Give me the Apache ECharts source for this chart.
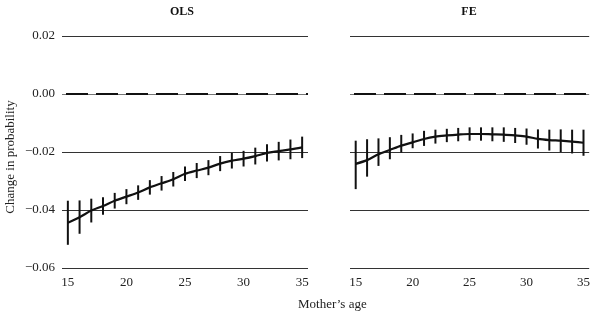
<!DOCTYPE html>
<html>
<head>
<meta charset="utf-8">
<script src="https://cdn.jsdelivr.net/npm/echarts@6/dist/echarts.min.js"></script>
<style>
  html, body { margin: 0; padding: 0; background: #fff; }
  #chart { width: 593px; height: 313px; }
</style>
</head>
<body>
<div id="chart"></div>
<script>
const ages = [15, 16, 17, 18, 19, 20, 21, 22, 23, 24, 25, 26, 27, 28, 29, 30, 31, 32, 33, 34, 35];
const xTicks = [15, 20, 25, 30, 35];

const olsMean = [-0.0444, -0.0425, -0.0402, -0.0386, -0.0368, -0.0354, -0.0340, -0.0322, -0.0308, -0.0294,
  -0.0275, -0.0264, -0.0254, -0.0240, -0.0230, -0.0223, -0.0214, -0.0203, -0.0197, -0.0191, -0.0184];
const olsLow = [-0.0520, -0.0482, -0.0443, -0.0416, -0.0395, -0.0380, -0.0365, -0.0347, -0.0333, -0.0319,
  -0.0300, -0.0290, -0.0280, -0.0266, -0.0257, -0.0250, -0.0243, -0.0233, -0.0229, -0.0225, -0.0221];
const olsHigh = [-0.0368, -0.0367, -0.0361, -0.0356, -0.0341, -0.0328, -0.0315, -0.0297, -0.0283, -0.0269,
  -0.0250, -0.0238, -0.0228, -0.0214, -0.0203, -0.0196, -0.0185, -0.0173, -0.0165, -0.0157, -0.0147];

const feMean = [-0.0241, -0.0228, -0.0208, -0.0193, -0.0178, -0.0167, -0.0155, -0.0147, -0.0143, -0.0140,
  -0.0138, -0.0138, -0.0139, -0.0140, -0.0143, -0.0147, -0.0155, -0.0159, -0.0161, -0.0164, -0.0168];
const feLow = [-0.0328, -0.0285, -0.0248, -0.0225, -0.0202, -0.0187, -0.0179, -0.0171, -0.0166, -0.0163,
  -0.0161, -0.0161, -0.0163, -0.0165, -0.0169, -0.0175, -0.0188, -0.0195, -0.0200, -0.0205, -0.0213];
const feHigh = [-0.0161, -0.0156, -0.0153, -0.0149, -0.0141, -0.0136, -0.0127, -0.0123, -0.0120, -0.0117,
  -0.0115, -0.0115, -0.0115, -0.0115, -0.0117, -0.0119, -0.0122, -0.0123, -0.0122, -0.0123, -0.0123];

const yMin = -0.06, yMax = 0.02, yStep = 0.02;

const chart = echarts.init(document.getElementById("chart"));
const font = "'Liberation Serif', 'DejaVu Serif', serif";

function errorBars(xIndex, low, high) {
  return {
    type: "custom",
    xAxisIndex: xIndex,
    yAxisIndex: xIndex,
    data: ages.map((a, i) => [a, low[i], high[i]]),
    renderItem: function (params, api) {
      const p1 = api.coord([api.value(0), api.value(1)]);
      const p2 = api.coord([api.value(0), api.value(2)]);
      return {
        type: "line",
        shape: { x1: p1[0], y1: p1[1], x2: p2[0], y2: p2[1] },
        style: { stroke: "#111", lineWidth: 2 }
      };
    },
    z: 3
  };
}

function meanLine(xIndex, mean) {
  return {
    type: "line",
    xAxisIndex: xIndex,
    yAxisIndex: xIndex,
    data: ages.map((a, i) => [a, mean[i]]),
    smooth: 0.3,
    symbol: "none",
    lineStyle: { color: "#111", width: 2.2 },
    markLine: {
      silent: true,
      symbol: "none",
      label: { show: false },
      lineStyle: { color: "#111", type: [22, 8], dashOffset: 26, width: 2.2 },
      data: [{ yAxis: 0 }]
    },
    z: 4
  };
}

function xAxis(gridIndex) {
  return {
    type: "value",
    gridIndex: gridIndex,
    min: 14.5,
    max: 35.5,
    axisLine: { show: false },
    axisTick: { show: false },
    splitLine: { show: false },
    axisLabel: {
      customValues: xTicks,
      color: "#222",
      fontFamily: font,
      fontSize: 13,
      margin: 8
    }
  };
}

function yAxis(gridIndex, showLabels) {
  return {
    type: "value",
    gridIndex: gridIndex,
    min: yMin,
    max: yMax,
    interval: yStep,
    axisLine: { show: false },
    axisTick: { show: false },
    splitLine: {
      show: true,
      lineStyle: { color: ["#333", "#333", "#333", "#777", "#333"], width: 1 }
    },
    axisLabel: {
      show: showLabels,
      color: "#222",
      fontFamily: font,
      fontSize: 13,
      margin: 7,
      formatter: v => v.toFixed(2).replace("-", "\u2212")
    }
  };
}

const option = {
  backgroundColor: "#ffffff",
  animation: false,
  title: [
    { text: "OLS", left: 177, top: 1, textAlign: "center",
      textStyle: { fontFamily: font, fontSize: 12, fontWeight: "bold", color: "#111" } },
    { text: "FE", left: 464, top: 1, textAlign: "center",
      textStyle: { fontFamily: font, fontSize: 12, fontWeight: "bold", color: "#111" } }
  ],
  graphic: [
    { type: "text", left: 298, top: 298,
      style: { text: "Mother\u2019s age", font: "13px " + font, fill: "#222" } },
    { type: "text", x: 4, y: 157, rotation: Math.PI / 2, originX: 0, originY: 0,
      style: { text: "Change in probability", font: "13px " + font, fill: "#222",
        align: "center", verticalAlign: "top" } }
  ],
  grid: [
    { left: 62, right: 285, top: 36, bottom: 45 },
    { left: 350, right: 2, top: 36, bottom: 45 }
  ],
  xAxis: [xAxis(0), xAxis(1)],
  yAxis: [yAxis(0, true), yAxis(1, false)],
  series: [
    meanLine(0, olsMean),
    errorBars(0, olsLow, olsHigh),
    meanLine(1, feMean),
    errorBars(1, feLow, feHigh)
  ]
};

chart.setOption(option, true);
</script>
</body>
</html>
